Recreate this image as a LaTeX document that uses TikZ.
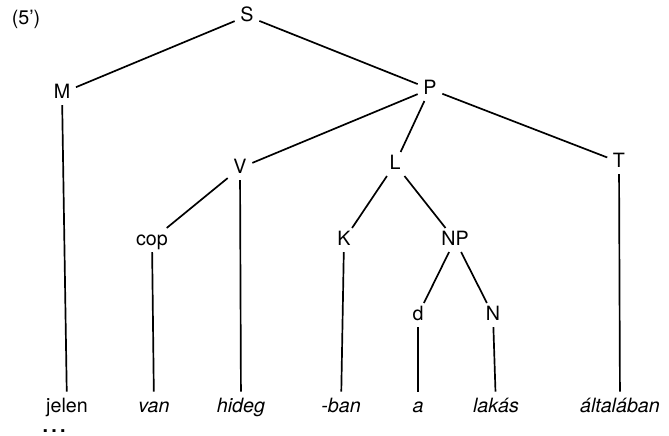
\documentclass[tikz,border=0pt]{standalone}
\usepackage{fontspec}
\setmainfont{TeX Gyre Heros}
\usepackage{tikz}

\tikzset{
  cat/.style={inner sep=3.5pt, text height=1.6ex, text depth=0.1ex},
  leaf/.style={inner xsep=2pt, inner ysep=5pt, text height=1.8ex, text depth=0.5ex}
}

\begin{document}
\begin{tikzpicture}[x=0.025cm, y=-0.025cm, font=\fontsize{14}{16}\selectfont, line width=1.2pt]
      \useasboundingbox (0,0) rectangle (669,435);

      \node[](num) at (26, 19){(5')};

      % categories
      \node[cat](S) at (247, 16){S};
      \node[cat](M) at (62, 93){M};
      \node[cat](P) at (430, 89){P};
      \node[cat](V) at (240, 168){V};
      \node[cat](L) at (395, 164){L};
      \node[cat](T) at (619, 162){T};
      \node[cat](cop) at (152, 240){cop};
      \node[cat](K) at (344, 240){K};
      \node[cat](NP) at (455, 240){NP};
      \node[cat](d) at (418, 315){d};
      \node[cat](N) at (493, 315){N};

      % words
      \node[leaf](jelen) at (67, 408){jelen};
      \node[leaf](van) at (154, 408){\itshape van};
      \node[leaf](hideg) at (241, 408){\itshape hideg};
      \node[leaf](ban) at (341, 408){\itshape -ban};
      \node[leaf](a) at (418, 408){\itshape a};
      \node[leaf](lakas) at (496, 408){\itshape lakás};
      \node[leaf](altalaban) at (620, 408){\itshape általában};
      \node[inner sep=0pt](dots) at (54, 431){\textbf{.\,.\,.}};

      \draw (S) -- (M);
      \draw (S) -- (P);
      \draw (P) -- (V);
      \draw (P) -- (L);
      \draw (P) -- (T);
      \draw (V) -- (cop);
      \draw (L) -- (K);
      \draw (L) -- (NP);
      \draw (NP) -- (d);
      \draw (NP) -- (N);

      \draw (M) -- (jelen);
      \draw (cop) -- (van);
      \draw (V) -- (hideg);
      \draw (K) -- (ban);
      \draw (d) -- (a);
      \draw (N) -- (lakas);
      \draw (T) -- (altalaban);
    \end{tikzpicture}
\end{document}
